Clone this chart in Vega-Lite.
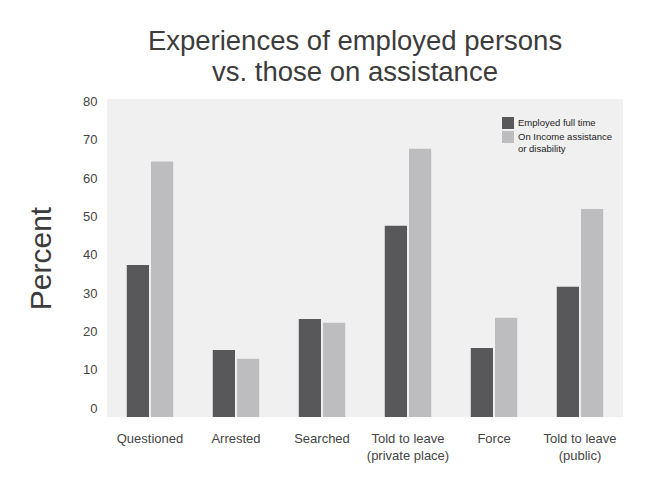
{
  "$schema": "https://vega.github.io/schema/vega-lite/v6.json",
  "autosize": {"type": "none"},
  "padding": {"left": 107, "top": 99, "right": 29, "bottom": 60},
  "width": 516,
  "height": 318,
  "background": "#ffffff",
  "config": {
    "font": "Liberation Sans",
    "view": {"fill": "#f0f0f0", "stroke": null}
  },
  "title": {
    "text": ["Experiences of employed persons", "vs. those on assistance"],
    "fontSize": 27.5,
    "fontWeight": "normal",
    "color": "#3c3c3c",
    "lineHeight": 31,
    "anchor": "middle",
    "dx": -10,
    "offset": 9
  },
  "data": {
    "values": [
      {"category": "Questioned", "group": "Employed full time", "percent": 37.4},
      {"category": "Questioned", "group": "On Income assistance or disability", "percent": 64.4},
      {"category": "Arrested", "group": "Employed full time", "percent": 15.2},
      {"category": "Arrested", "group": "On Income assistance or disability", "percent": 12.9},
      {"category": "Searched", "group": "Employed full time", "percent": 23.3},
      {"category": "Searched", "group": "On Income assistance or disability", "percent": 22.3},
      {"category": "Told to leave (private place)", "group": "Employed full time", "percent": 47.6},
      {"category": "Told to leave (private place)", "group": "On Income assistance or disability", "percent": 67.7},
      {"category": "Force", "group": "Employed full time", "percent": 15.7},
      {"category": "Force", "group": "On Income assistance or disability", "percent": 23.6},
      {"category": "Told to leave (public)", "group": "Employed full time", "percent": 31.7},
      {"category": "Told to leave (public)", "group": "On Income assistance or disability", "percent": 52.0}
    ]
  },
  "mark": {"type": "bar"},
  "encoding": {
    "x": {
      "field": "category",
      "type": "nominal",
      "sort": null,
      "scale": {"paddingInner": 0.46, "paddingOuter": 0.23},
      "axis": {
        "title": null,
        "labelAngle": 0,
        "ticks": false,
        "domain": false,
        "labelPadding": 21,
        "labelFontSize": 13,
        "labelColor": "#444444",
        "labelLineHeight": 17,
        "labelBaseline": "middle",
        "labelExpr": "datum.label == 'Told to leave (private place)' ? ['Told to leave', '(private place)'] : datum.label == 'Told to leave (public)' ? ['Told to leave', '(public)'] : datum.label"
      }
    },
    "xOffset": {
      "field": "group",
      "type": "nominal",
      "scale": {"paddingInner": 0.083}
    },
    "y": {
      "field": "percent",
      "type": "quantitative",
      "scale": {"domain": [-2.3, 80.7], "nice": false, "zero": false},
      "axis": {
        "title": "Percent",
        "titleFontSize": 30,
        "titleFontWeight": "normal",
        "titleColor": "#3c3c3c",
        "titleX": -57,
        "titleBaseline": "alphabetic",
        "values": [0, 10, 20, 30, 40, 50, 60, 70, 80],
        "grid": false,
        "ticks": false,
        "domain": false,
        "labelPadding": 10,
        "labelFontSize": 13,
        "labelColor": "#444444"
      }
    },
    "y2": {"datum": -2.3},
    "color": {
      "field": "group",
      "type": "nominal",
      "scale": {"range": ["#58585a", "#bdbdbf"]},
      "legend": {
        "title": null,
        "orient": "none",
        "legendX": 395,
        "legendY": 18,
        "symbolType": "square",
        "symbolSize": 144,
        "symbolStrokeWidth": 0,
        "labelFontSize": 9.5,
        "labelColor": "#222222",
        "labelOffset": 4,
        "labelBaseline": "top",
        "labelLineHeight": 14,
        "rowPadding": 2,
        "labelExpr": "datum.label == 'On Income assistance or disability' ? ['On Income assistance', 'or disability'] : datum.label",
        "encode": {"labels": {"update": {"dy": {"value": -5}}}}
      }
    }
  }
}
